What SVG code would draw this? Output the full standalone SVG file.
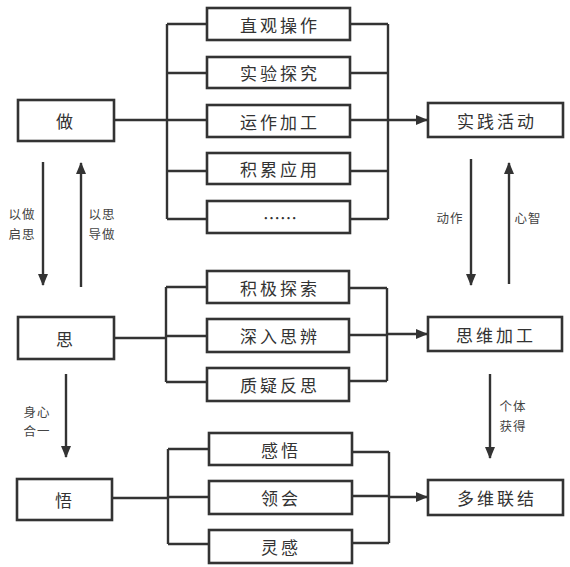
<svg xmlns="http://www.w3.org/2000/svg" width="570" height="567" viewBox="0 0 570 567">
<style>
.box{fill:#fff;stroke:#333;stroke-width:2.6}
.ln{fill:none;stroke:#333;stroke-width:2.4}
.t{font-family:"Noto Sans CJK SC","Noto Sans",sans-serif;font-size:17px;fill:#333;text-anchor:middle;dominant-baseline:central;letter-spacing:3px}
.s{font-family:"Noto Sans CJK SC","Noto Sans",sans-serif;font-size:12.5px;fill:#444;text-anchor:middle;dominant-baseline:central;letter-spacing:1px}
</style>
<defs>
<marker id="ah" markerWidth="12" markerHeight="10" refX="11" refY="5" orient="auto" markerUnits="userSpaceOnUse">
<path d="M0,0 L12,5 L0,10 Z" fill="#333"/>
</marker>
</defs>
<g id="connectors">
<path class="ln" d="M114,120 H167 M167,24 V219 M167,24 H207 M167,73 H207 M167,120 H207 M167,171 H207 M167,219 H207"/>
<path class="ln" d="M350,24 H388 M350,73 H388 M350,120 H388 M350,171 H388 M350,219 H388 M388,24 V219"/>
<path class="ln" d="M388,120 H427" marker-end="url(#ah)"/>
<path class="ln" d="M114,338 H166 M166,287 V382 M166,287 H207 M166,336 H207 M166,382 H207"/>
<path class="ln" d="M349,288 H387 M349,335 H387 M349,381 H387 M387,288 V381"/>
<path class="ln" d="M387,334 H427" marker-end="url(#ah)"/>
<path class="ln" d="M112,498 H168 M168,449 V544 M168,449 H209 M168,497 H209 M168,544 H209"/>
<path class="ln" d="M352,452 H389 M352,496 H389 M352,543 H389 M389,452 V543"/>
<path class="ln" d="M389,497 H427" marker-end="url(#ah)"/>
<path class="ln" d="M43,162 V285" marker-end="url(#ah)"/>
<path class="ln" d="M81,287 V163" marker-end="url(#ah)"/>
<path class="ln" d="M471,159 V285" marker-end="url(#ah)"/>
<path class="ln" d="M509,284 V163" marker-end="url(#ah)"/>
<path class="ln" d="M66,374 V457" marker-end="url(#ah)"/>
<path class="ln" d="M490,374 V458" marker-end="url(#ah)"/>
<text class="s" x="22" y="213">以做</text>
<text class="s" x="22" y="233">启思</text>
<text class="s" x="102" y="213">以思</text>
<text class="s" x="102" y="233">导做</text>
<text class="s" x="450" y="217">动作</text>
<text class="s" x="528" y="217">心智</text>
<text class="s" x="37" y="411">身心</text>
<text class="s" x="37" y="430">合一</text>
<text class="s" x="513" y="405">个体</text>
<text class="s" x="513" y="425">获得</text>
</g>
<g id="zuo"><rect class="box" x="18" y="100" width="96" height="41"/><text class="t" x="66" y="120.5">做</text></g>
<g id="n1"><rect class="box" x="207" y="8" width="143" height="32"/><text class="t" x="280" y="24">直观操作</text></g>
<g id="n2"><rect class="box" x="207" y="57" width="143" height="31"/><text class="t" x="280" y="72.5">实验探究</text></g>
<g id="n3"><rect class="box" x="207" y="105" width="143" height="32"/><text class="t" x="280" y="121">运作加工</text></g>
<g id="n4"><rect class="box" x="207" y="153" width="143" height="31"/><text class="t" x="280" y="168.5">积累应用</text></g>
<g id="n5"><rect class="box" x="207" y="201" width="143" height="32"/><text class="t" x="280" y="217" style="letter-spacing:0">……</text></g>
<g id="shijian"><rect class="box" x="428" y="103" width="135" height="34"/><text class="t" x="497" y="120">实践活动</text></g>
<g id="si"><rect class="box" x="18" y="317" width="96" height="42"/><text class="t" x="66" y="338">思</text></g>
<g id="m1"><rect class="box" x="207" y="271" width="142" height="32"/><text class="t" x="280" y="287">积极探索</text></g>
<g id="m2"><rect class="box" x="207" y="319" width="142" height="33"/><text class="t" x="280" y="335.5">深入思辨</text></g>
<g id="m3"><rect class="box" x="207" y="368" width="142" height="33"/><text class="t" x="280" y="384.5">质疑反思</text></g>
<g id="siwei"><rect class="box" x="428" y="317" width="134" height="34"/><text class="t" x="496" y="334">思维加工</text></g>
<g id="wu"><rect class="box" x="17" y="479" width="95" height="41"/><text class="t" x="65" y="499.5">悟</text></g>
<g id="k1"><rect class="box" x="209" y="433" width="143" height="32"/><text class="t" x="281" y="449">感悟</text></g>
<g id="k2"><rect class="box" x="209" y="481" width="143" height="33"/><text class="t" x="281" y="497.5">领会</text></g>
<g id="k3"><rect class="box" x="209" y="530" width="143" height="33"/><text class="t" x="281" y="546.5">灵感</text></g>
<g id="duowei"><rect class="box" x="428" y="480" width="135" height="35"/><text class="t" x="497" y="497.5">多维联结</text></g>
</svg>
